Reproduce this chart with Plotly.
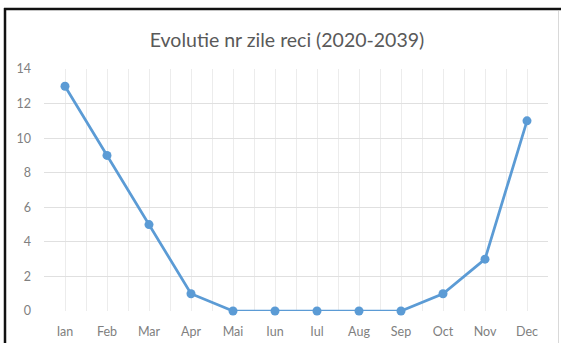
import plotly.graph_objects as go

months = ["Ian", "Feb", "Mar", "Apr", "Mai", "Iun", "Iul", "Aug", "Sep", "Oct", "Nov", "Dec"]
zile_reci = [13, 9, 5, 1, 0, 0, 0, 0, 0, 1, 3, 11]
y_ticks = [0, 2, 4, 6, 8, 10, 12, 14]
title = "Evolutie nr zile reci (2020-2039)"

W, H = 561, 343
L, R, T, B = 44, 13, 69, 32
pw, ph = W - L - R, H - T - B

x_idx = list(range(len(months)))
boundaries = [i - 0.5 for i in range(len(months) + 1)]

fig = go.Figure()
fig.add_trace(go.Scatter(
    x=x_idx, y=zile_reci, mode="lines+markers",
    line=dict(color="#5b9bd5", width=2.75),
    marker=dict(color="#5b9bd5", size=9),
    cliponaxis=False, hoverinfo="x+y",
))

def px_x(p):
    return (p - L) / pw

def px_y(p):
    return 1 - (p - T) / ph

shapes = [
    dict(type="line", xref="paper", yref="paper", x0=px_x(5), x1=px_x(5), y0=px_y(8), y1=px_y(H + 5),
         line=dict(color="#111111", width=2.5)),
    dict(type="line", xref="paper", yref="paper", x0=px_x(4), x1=px_x(W + 5), y0=px_y(9), y1=px_y(9),
         line=dict(color="#111111", width=2.5)),
    dict(type="line", xref="paper", yref="paper", x0=px_x(558.5), x1=px_x(558.5), y0=px_y(11), y1=px_y(H + 5),
         line=dict(color="#d9d9d9", width=1)),
]

fig.update_layout(
    width=W, height=H,
    margin=dict(l=L, r=R, t=T, b=B, pad=0, autoexpand=False),
    paper_bgcolor="white", plot_bgcolor="white",
    showlegend=False,
    title=dict(text=title, x=287 / W, xanchor="center", y=1 - 40 / H, yanchor="middle",
               font=dict(family="Lato, Open Sans, sans-serif", size=19.5, color="#595959")),
    font=dict(family="Lato, Open Sans, sans-serif", size=12.5, color="#808080"),
    xaxis=dict(
        range=[-0.5, len(months) - 0.5], tickvals=x_idx, ticktext=months,
        showgrid=True, gridcolor="#ececec", gridwidth=1,
        minor=dict(tickvals=boundaries, showgrid=True, gridcolor="#ececec", gridwidth=1),
        zeroline=False, showline=False, ticks="", ticklabelstandoff=11,
        fixedrange=True, automargin=False,
    ),
    yaxis=dict(
        range=[0, 14], tickvals=y_ticks, showgrid=True, gridcolor="#e0e0e0", gridwidth=1,
        zeroline=False, showline=False, ticks="", ticklabelstandoff=12,
        fixedrange=True, automargin=False,
    ),
    shapes=shapes,
)

fig.write_html(
    "out.html",
    config={"displayModeBar": False},
    post_script="document.body.style.margin='0';document.body.style.overflow='hidden';",
)
